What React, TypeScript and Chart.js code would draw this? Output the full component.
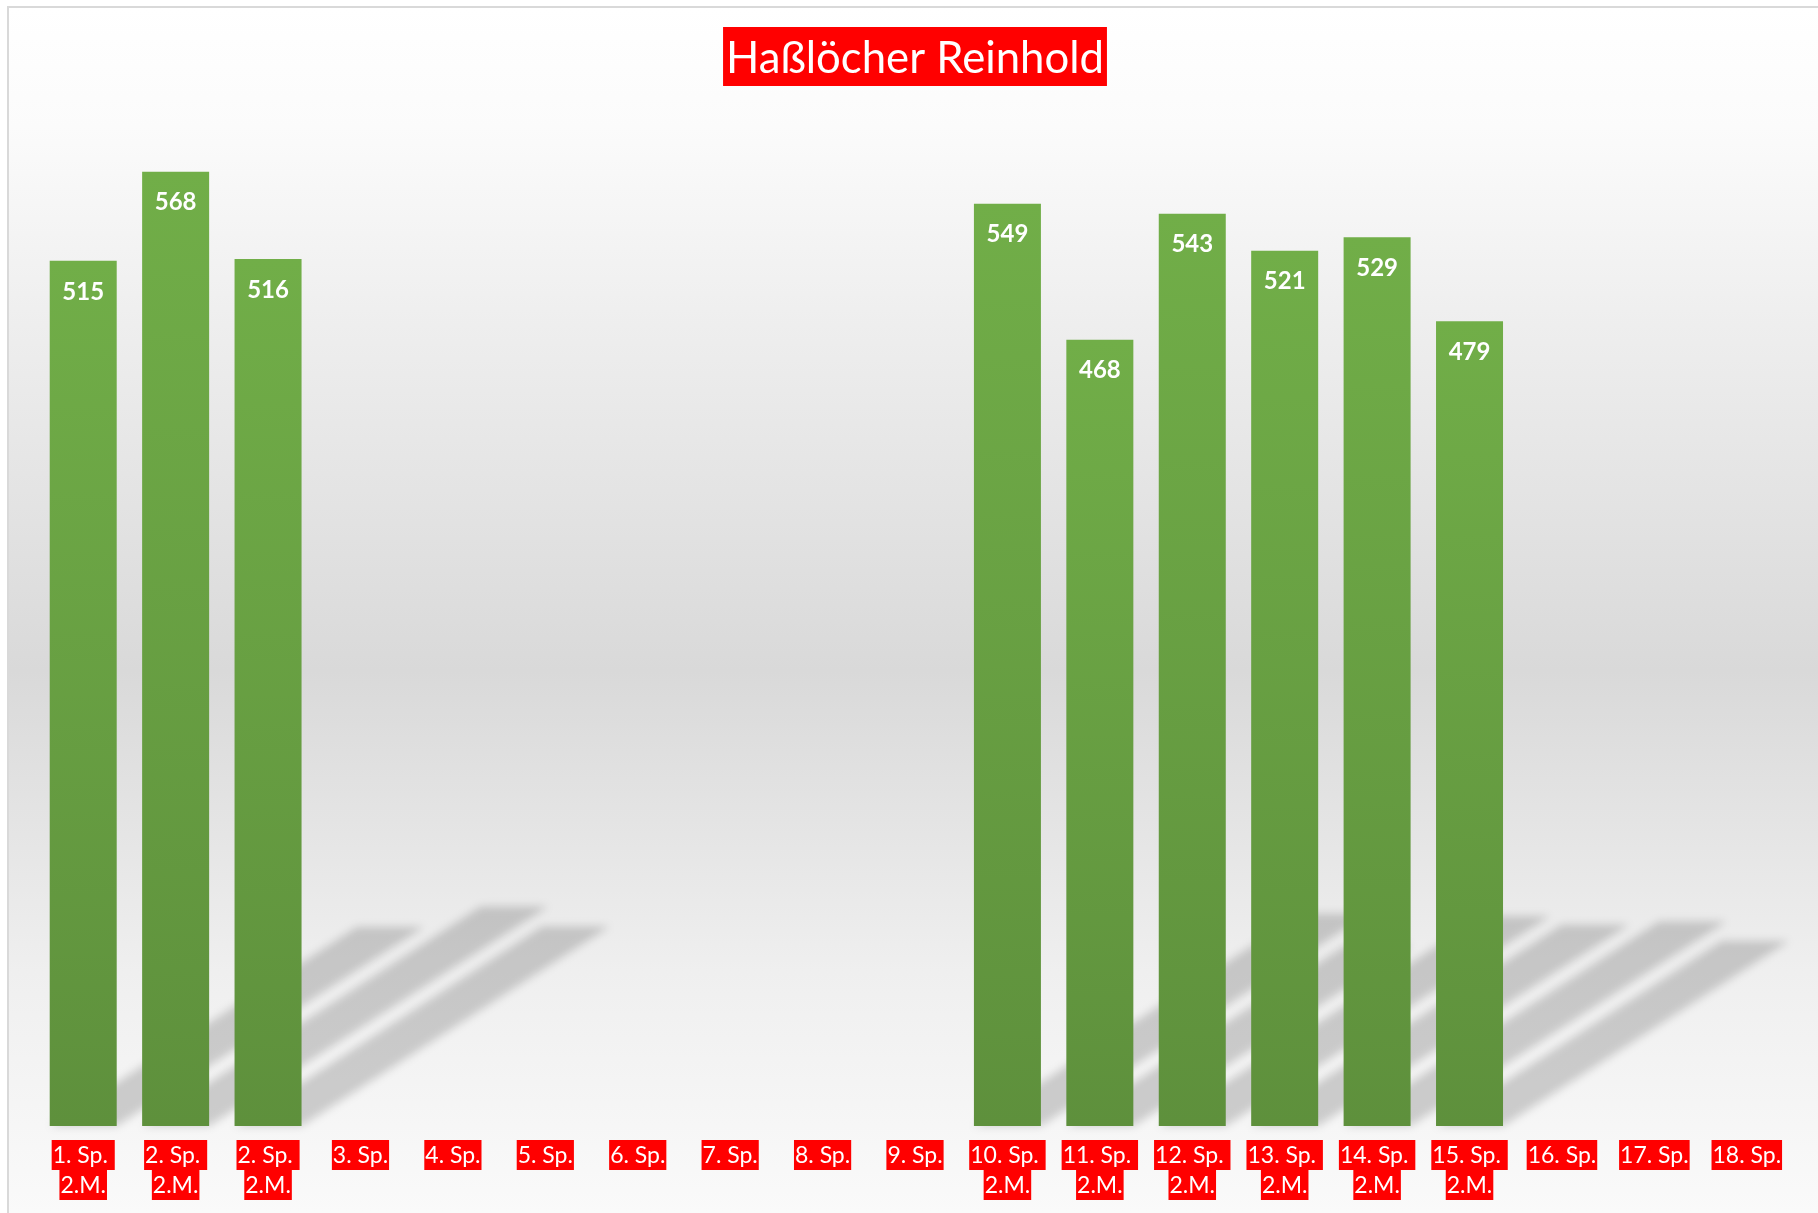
import React, { useEffect, useRef } from 'react';
import { Chart, registerables } from 'chart.js';

Chart.register(...registerables);

const TITLE = 'Haßlöcher Reinhold';
const categories: string[][] = [
  ['1. Sp. ', '2.M.'],
  ['2. Sp. ', '2.M.'],
  ['2. Sp. ', '2.M.'],
  ['3. Sp.'],
  ['4. Sp.'],
  ['5. Sp.'],
  ['6. Sp.'],
  ['7. Sp.'],
  ['8. Sp.'],
  ['9. Sp.'],
  ['10. Sp. ', '2.M.'],
  ['11. Sp. ', '2.M.'],
  ['12. Sp. ', '2.M.'],
  ['13. Sp. ', '2.M.'],
  ['14. Sp. ', '2.M.'],
  ['15. Sp. ', '2.M.'],
  ['16. Sp.'],
  ['17. Sp.'],
  ['18. Sp.'],
];
const scores: (number | null)[] = [
  515, 568, 516, null, null, null, null, null, null, null,
  549, 468, 543, 521, 529, 479, null, null, null,
];
const Y_MIN = 0;
const Y_MAX = 600;

const FONT = 'Lato, "Open Sans", "Noto Sans", sans-serif';

const decor = {
  id: 'decor',
  beforeDraw(chart: any) {
    const { ctx, width, height } = chart;
    ctx.save();
    ctx.fillStyle = '#ffffff';
    ctx.fillRect(0, 0, width, height);
    const g = ctx.createLinearGradient(0, 7, 0, height);
    g.addColorStop(0, '#ffffff');
    g.addColorStop(0.1, '#fbfbfb');
    g.addColorStop(0.25, '#efefef');
    g.addColorStop(0.55, '#d9d9d9');
    g.addColorStop(0.8, '#efefef');
    g.addColorStop(1, '#fafafa');
    ctx.fillStyle = g;
    ctx.fillRect(8, 7, width - 8, height - 7);
    ctx.strokeStyle = '#d9d9d9';
    ctx.lineWidth = 2;
    ctx.beginPath();
    ctx.moveTo(8, height + 5);
    ctx.lineTo(8, 7);
    ctx.lineTo(width + 5, 7);
    ctx.stroke();
    ctx.restore();
  },
  beforeDatasetsDraw(chart: any) {
    const { ctx } = chart;
    const meta = chart.getDatasetMeta(0);
    const data = chart.data.datasets[0].data;
    ctx.save();
    ctx.filter = 'blur(4px)';
    ctx.fillStyle = 'rgba(0,0,0,0.17)';
    ctx.beginPath();
    meta.data.forEach((el: any, i: number) => {
      if (data[i] == null) return;
      const left = el.x - el.width / 2;
      const right = el.x + el.width / 2;
      const base = el.base;
      const h = base - el.y;
      const dx = 0.355 * h;
      const dy = 0.23 * h;
      ctx.moveTo(left, base);
      ctx.lineTo(right, base);
      ctx.lineTo(right + dx, base - dy);
      ctx.lineTo(left + dx, base - dy);
      ctx.closePath();
    });
    ctx.fill();
    ctx.restore();
  },
  afterDatasetsDraw(chart: any) {
    const { ctx } = chart;
    const meta = chart.getDatasetMeta(0);
    const data = chart.data.datasets[0].data;
    ctx.save();
    ctx.fillStyle = '#ffffff';
    ctx.font = `bold 24px ${FONT}`;
    ctx.textAlign = 'center';
    ctx.textBaseline = 'middle';
    meta.data.forEach((el: any, i: number) => {
      if (data[i] == null) return;
      ctx.fillText(String(data[i]), el.x, el.y + 31);
    });
    ctx.restore();
  },
  afterDraw(chart: any) {
    const { ctx, chartArea } = chart;
    const xs = chart.scales.x;
    ctx.save();
    // title
    const cx = (chartArea.left + chartArea.right) / 2;
    ctx.font = `46px ${FONT}`;
    const m = ctx.measureText(TITLE).width;
    const size = 46 * 378 / m;
    ctx.font = `${size}px ${FONT}`;
    const tw = ctx.measureText(TITLE).width;
    ctx.fillStyle = '#ff0000';
    ctx.fillRect(cx - tw / 2 - 3, 27, tw + 6, 59);
    ctx.fillStyle = '#ffffff';
    ctx.textAlign = 'center';
    ctx.textBaseline = 'middle';
    ctx.fillText(TITLE, cx, 59);
    // x labels
    ctx.font = `23px ${FONT}`;
    const labels = chart.data.labels as string[][];
    labels.forEach((lines, i) => {
      const x = xs.getPixelForValue(i);
      lines.forEach((line, j) => {
        const cy = 1155 + 30 * j;
        const w = ctx.measureText(line).width;
        ctx.fillStyle = '#ff0000';
        ctx.fillRect(x - w / 2 - 1, cy - 15, w + 2, 30);
        ctx.fillStyle = '#ffffff';
        ctx.fillText(line, x, cy + 1);
      });
    });
    ctx.restore();
  },
};

export default function App() {
  const ref = useRef<HTMLCanvasElement | null>(null);
  useEffect(() => {
    if (!ref.current) return;
    const chart = new Chart(ref.current, {
      type: 'bar',
      data: {
        labels: categories,
        datasets: [
          {
            data: scores,
            backgroundColor: (c: any) => {
              if (c.type !== 'data' || c.raw == null) return '#70ad47';
              const y = c.chart.scales.y;
              const top = y.getPixelForValue(c.raw);
              const base = y.getPixelForValue(0);
              if (!isFinite(top) || !isFinite(base) || top === base) return '#70ad47';
              const g = c.chart.ctx.createLinearGradient(0, top, 0, base);
              g.addColorStop(0, '#71ae48');
              g.addColorStop(1, '#5e903c');
              return g;
            },
            borderWidth: 0,
            barPercentage: 0.725,
            categoryPercentage: 1,
          },
        ],
      },
      options: {
        animation: false,
        responsive: false,
        maintainAspectRatio: false,
        devicePixelRatio: 1,
        layout: { padding: { left: 37, right: 25, top: 118, bottom: 87 } },
        plugins: { legend: { display: false }, title: { display: false }, tooltip: { enabled: false } },
        scales: {
          x: { display: false, grid: { display: false } },
          y: { display: false, min: Y_MIN, max: Y_MAX, grid: { display: false } },
        },
      },
      plugins: [decor],
    });
    return () => chart.destroy();
  }, []);
  return (
    <div style={{ position: 'fixed', left: 0, top: 0, width: 1818, height: 1213, overflow: 'hidden' }}>
      <canvas ref={ref} width={1818} height={1213} style={{ display: 'block', width: 1818, height: 1213 }} />
    </div>
  );
}
